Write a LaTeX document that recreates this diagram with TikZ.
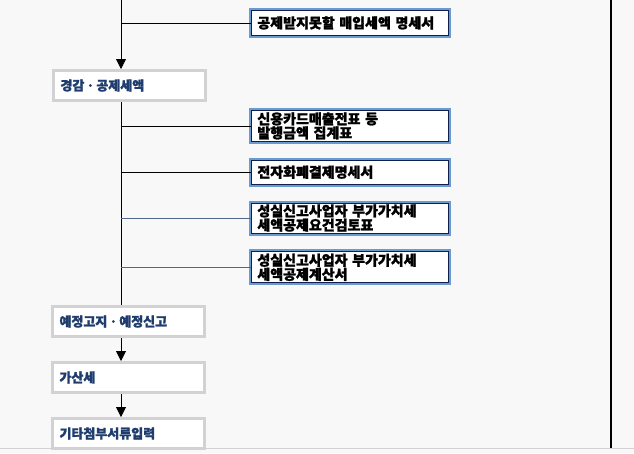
\documentclass[tikz,border=0pt]{standalone}
\usepackage{fontspec}
\newfontfamily\krfont[FakeBold=1.6]{Noto Sans CJK KR}
\usepackage{xcolor}
\usepackage{tikz}
\usetikzlibrary{arrows.meta,positioning}
\definecolor{pagebg}{HTML}{F8F8F8}
\definecolor{frameblue}{HTML}{6A9AD2}
\definecolor{framenavy}{HTML}{10204A}
\definecolor{framegray}{HTML}{D2D2D2}
\definecolor{labelnavy}{HTML}{1E3C6E}
\definecolor{linkgray}{HTML}{50688C}

\begin{document}
\begin{tikzpicture}[
      x=1pt, y=-1pt,
      node distance=18pt,
      rbox/.style={draw=framenavy, line width=0.8pt, fill=white,
        preaction={draw=frameblue, line width=5pt},
        anchor=north west, align=left, text width=185pt, inner xsep=6pt, inner ysep=1pt,
        font=\krfont\bfseries\fontsize{14}{14}\selectfont},
      lbox/.style={draw=framegray, line width=3pt, fill=white,
        anchor=north west, align=left, text width=138pt, inner xsep=7pt,
        minimum height=30pt, text=labelnavy,
        font=\krfont\bfseries\fontsize{13}{14}\selectfont},
      arr/.style={-{Triangle[width=10pt,length=10pt]}, line width=0.8pt},
      branch/.style={line width=0.8pt}
    ]
    \useasboundingbox (0,0) rectangle (634,453);
    \fill[pagebg] (0,0) rectangle (634,453);

    \coordinate (trunk) at (121,0);

    % right hand forms
    \node[rbox, minimum height=25pt] (nomy) at (251,10) {공제받지못할 매입세액 명세서};
    \node[rbox, minimum height=31pt] (card) at (251,110) {신용카드매출전표 등\\발행금액 집계표};
    \node[rbox, minimum height=24pt, below=of card] (emoney) {전자화폐결제명세서};
    \node[rbox, minimum height=30pt, below=of emoney, font=\krfont\bfseries\fontsize{14}{12.5}\selectfont] (check) {성실신고사업자 부가가치세\\세액공제요건검토표};
    \node[rbox, minimum height=31pt, below=of check, font=\krfont\bfseries\fontsize{14}{12.5}\selectfont] (calc) {성실신고사업자 부가가치세\\세액공제계산서};

    % left hand steps
    \node[lbox] (gam) at (52,69) {경감ㆍ공제세액};
    \node[lbox] (pre) at (51,305) {예정고지ㆍ예정신고};
    \node[lbox, below=23pt of pre] (add) {가산세};
    \node[lbox, below=23pt of add] (etc) {기타첨부서류입력};

    \draw[arr] (trunk) -- (trunk |- gam.north);
    \draw[branch] (trunk |- nomy.west) -- (nomy.west);
    \draw[branch] (trunk |- gam.south) -- (trunk |- pre.north);
    \draw[branch] (trunk |- card.west) -- (card.west);
    \draw[branch] (trunk |- emoney.west) -- (emoney.west);
    \draw[branch, draw=linkgray, line width=0.5pt] (trunk |- check.west) -- (check.west);
    \draw[branch, draw=linkgray, line width=0.5pt] (trunk |- calc.west) -- (calc.west);
    \draw[arr] (trunk |- pre.south) -- (trunk |- add.north);
    \draw[arr] (trunk |- add.south) -- (trunk |- etc.north);

    \draw[line width=2pt] (611,0) -- (611,448);
    \draw[framegray, line width=1pt] (0,448.5) -- (634,448.5);
  \end{tikzpicture}
\end{document}
